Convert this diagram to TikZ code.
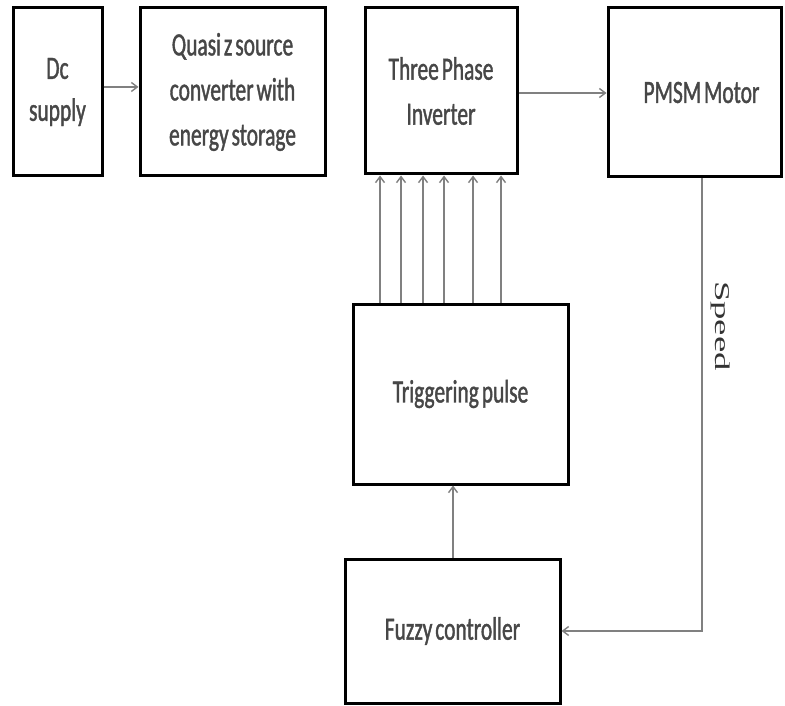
\documentclass[tikz,border=0pt]{standalone}
\usepackage{fontspec}
\newfontfamily\boxfont[FakeStretch=0.66,FakeBold=1.2,WordSpace=0.6]{Carlito}
\newfontfamily\speedfont{Liberation Serif}
\usetikzlibrary{arrows.meta}
\begin{document}
\begin{tikzpicture}[x=1pt,y=-1pt,
  blk/.style={draw=black, line width=3pt, fill=white, inner sep=0pt, align=center,
    font=\boxfont\fontsize{32.5}{45}\selectfont, text=black!72},
  conn/.style={draw=black!50, line width=1.4pt, -{Straight Barb[length=6pt,width=9pt]}}]
\useasboundingbox (0,0) rectangle (785,706);
\node[blk, minimum width=89pt, minimum height=168pt] (dc) at (57.5,92) {\raisebox{-3pt}{Dc}\\supply};
\node[blk, minimum width=185pt, minimum height=168pt] (qz) at (232.5,92) {Quasi z source\\converter with\\energy storage};
\node[blk, minimum width=152pt, minimum height=166pt] (inv) at (441,91) {Three Phase\\Inverter};
\node[blk, minimum width=173pt, minimum height=169pt] (pm) at (694.5,92.5) {\hspace*{14pt}PMSM Motor};
\node[blk, minimum width=215pt, minimum height=180pt] (trig) at (460.5,394) {\raisebox{-3pt}{Triggering pulse}};
\node[blk, minimum width=215pt, minimum height=144pt] (fz) at (452.5,631) {Fuzzy controller};
\draw[conn] ([yshift=5pt]dc.east) -- ([yshift=5pt]qz.west);
\draw[conn] (inv.east |- 0,93) -- (pm.west |- 0,93);
\foreach \xx in {380,401,423,444,473,501}
  \draw[conn] (trig.north -| \xx,0) -- (inv.south -| \xx,0);
\draw[conn] (fz.north -| 453,0) -- (trig.south -| 453,0);
\draw[conn] (pm.south -| 702,0) |- (fz.east);
\node[rotate=-90, font=\speedfont\fontsize{21}{21}\selectfont, text=black!80, inner sep=0pt] (spd) at (721,326) {\scalebox{1.75}[1]{Speed}};
\end{tikzpicture}
\end{document}
